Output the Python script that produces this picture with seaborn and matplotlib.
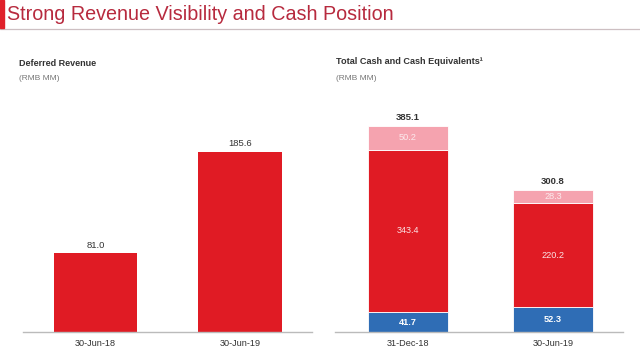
import matplotlib
matplotlib.use("Agg")
import matplotlib.pyplot as plt
import seaborn as sns
import pandas as pd
import numpy as np

# ---- data ----
def_dates = ["30-Jun-18", "30-Jun-19"]
def_values = [81.0, 185.6]

cash_dates = ["31-Dec-18", "30-Jun-19"]
cash_blue = [41.7, 52.3]
cash_red = [343.4, 220.2]
cash_pink = [50.2, 28.3]
cash_totals = [385.1, 300.8]

title = "Strong Revenue Visibility and Cash Position"

RED = "#E01B24"
PINK = "#F5A3AF"
BLUE = "#2F6DB5"
TITLE_C = "#B72A3E"
DARK = "#333333"

sns.set_theme(style="white")
plt.rcParams["font.family"] = ["Liberation Sans", "DejaVu Sans"]

fig = plt.figure(figsize=(6.4, 3.55), dpi=100)
W, H = 640, 355

def fx(px):
    return px / W

def fy(py):
    return 1 - py / H

# title bar
fig.patches.append(plt.Rectangle((0, fy(28)), fx(4), 28 / H, transform=fig.transFigure,
                                 color="#E0202A", zorder=5))
fig.add_artist(plt.Line2D([0, 1], [fy(28.5), fy(28.5)], transform=fig.transFigure,
                          color="#CDBFC2", lw=0.9))
fig.text(fx(7), fy(15), title, color=TITLE_C, fontsize=14.2, va="center", ha="left")

# subtitles
fig.text(fx(19), fy(63), "Deferred Revenue", fontsize=6.5, fontweight="bold", color=DARK,
         va="center")
fig.text(fx(19), fy(79), "(RMB MM)", fontsize=6.0, color="#777777", va="center")
fig.text(fx(336), fy(62), "Total Cash and Cash Equivalents¹", fontsize=6.6,
         fontweight="bold", color=DARK, va="center")
fig.text(fx(336), fy(79), "(RMB MM)", fontsize=6.0, color="#777777", va="center")

# ---- left chart ----
axL = fig.add_axes([fx(23), fy(332), fx(289), 232 / H])
dfL = pd.DataFrame({"date": def_dates, "value": def_values})
sns.barplot(data=dfL, x="date", y="value", color=RED, width=0.575, saturation=1,
            ax=axL, edgecolor="none")
axL.set_ylim(0, 239.2)
axL.set_xlim(-0.502, 1.498)
for i, v in enumerate(def_values):
    axL.text(i, v + 4, f"{v:.1f}", ha="center", va="bottom", fontsize=6.8, color=DARK)

# ---- right chart (stacked) ----
axR = fig.add_axes([fx(335), fy(332), fx(288), 232 / H])
blue = np.array(cash_blue)
red = np.array(cash_red)
pink = np.array(cash_pink)
dfR = pd.DataFrame({"date": cash_dates, "blue": blue, "red": red, "pink": pink})
sns.barplot(data=dfR, x="date", y="blue", color=BLUE, width=0.55, saturation=1,
            ax=axR, edgecolor="white", linewidth=0.6)
sns.barplot(data=dfR, x="date", y="red", bottom=blue, color=RED, width=0.55,
            saturation=1, ax=axR, edgecolor="white", linewidth=0.6)
sns.barplot(data=dfR, x="date", y="pink", bottom=blue + red, color=PINK, width=0.55,
            saturation=1, ax=axR, edgecolor="white", linewidth=0.6)
axR.set_ylim(0, 490)
axR.set_xlim(-0.503, 1.483)
for i in range(len(cash_dates)):
    axR.text(i, blue[i] / 2, f"{blue[i]:.1f}", ha="center", va="center", fontsize=6.6,
             color="white", fontweight="bold")
    axR.text(i, blue[i] + red[i] / 2, f"{red[i]:.1f}", ha="center", va="center",
             fontsize=6.6, color="#FBE3E5")
    axR.text(i, blue[i] + red[i] + pink[i] / 2, f"{pink[i]:.1f}", ha="center",
             va="center", fontsize=6.6, color="#FCE9EC")
    axR.text(i, blue[i] + red[i] + pink[i] + 8, f"{cash_totals[i]:.1f}", ha="center",
             va="bottom", fontsize=6.8, color=DARK, fontweight="bold")

for ax in (axL, axR):
    ax.set_xlabel("")
    ax.set_ylabel("")
    ax.set_yticks([])
    for s in ("top", "right", "left"):
        ax.spines[s].set_visible(False)
    ax.spines["bottom"].set_color("#BBBBBB")
    ax.spines["bottom"].set_linewidth(1.0)
    ax.tick_params(axis="x", length=0, labelsize=6.6, colors=DARK, pad=5)
    ax.set_facecolor("none")

fig.savefig("out.png", dpi=100, facecolor="white")
